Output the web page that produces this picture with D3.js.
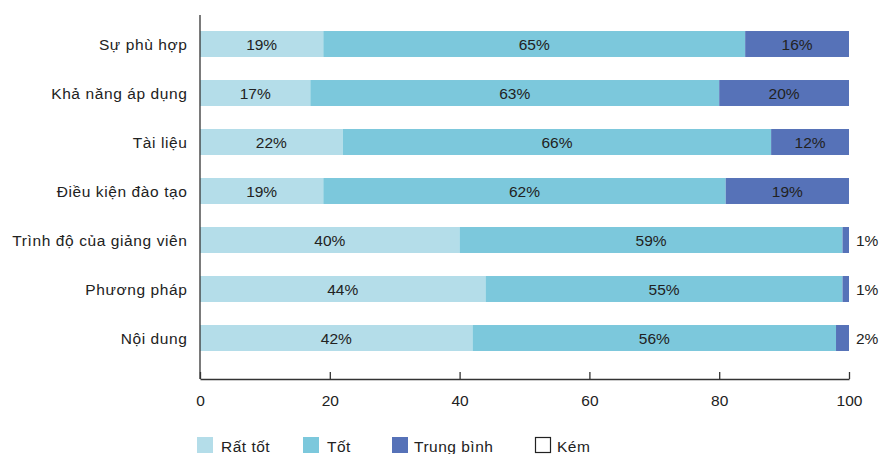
<!DOCTYPE html>
<html>
<head>
<meta charset="utf-8">
<script src="https://cdn.jsdelivr.net/npm/d3@7"></script>
<style>
  html, body { margin: 0; padding: 0; background: #fff; }
  svg text { font-family: "Liberation Sans", Arial, Helvetica, sans-serif; fill: #222; }
</style>
</head>
<body>
<svg id="chart" width="880" height="454"></svg>
<script>
// Survey criteria (top to bottom)
const categories = ["Sự phù hợp", "Khả năng áp dụng", "Tài liệu", "Điều kiện đào tạo",
                    "Trình độ của giảng viên", "Phương pháp", "Nội dung"];
// Rating levels and their shares (%)
const seriesNames = ["Rất tốt", "Tốt", "Trung bình", "Kém"];
const ratTot     = [19, 17, 22, 19, 40, 44, 42];
const tot        = [65, 63, 66, 62, 59, 55, 56];
const trungBinh  = [16, 20, 12, 19, 1, 1, 2];
const kem        = [0, 0, 0, 0, 0, 0, 0];
const xTicks     = [0, 20, 40, 60, 80, 100];

const colors = ["#b4dde9", "#7cc8dc", "#5672b8", "#ffffff"];

const svg = d3.select("#chart");
const left = 200, right = 849, axisTop = 15, axisBottom = 379;

const x = d3.scaleLinear().domain([0, 100]).range([left, right]);
const y = d3.scaleBand().domain(categories).range([19.5, 362.5])
  .paddingInner(0.47).paddingOuter(0.235);

const rows = categories.map((c, i) => ({
  cat: c, values: [ratTot[i], tot[i], trungBinh[i], kem[i]]
}));

const fontSize = 15.5;

rows.forEach(r => {
  let acc = 0;
  r.values.forEach((v, si) => {
    const x0 = acc, x1 = acc + v;
    acc = x1;
    if (v <= 0) return;
    svg.append("rect")
      .attr("x", x(x0)).attr("y", y(r.cat))
      .attr("width", x(x1) - x(x0)).attr("height", y.bandwidth())
      .attr("fill", colors[si]);
    const cy = y(r.cat) + y.bandwidth() / 2;
    if (v >= 5) {
      svg.append("text")
        .attr("x", x((x0 + x1) / 2)).attr("y", cy)
        .attr("dy", "0.36em").attr("text-anchor", "middle")
        .style("font-size", fontSize + "px")
        .text(v + "%");
    } else {
      svg.append("text")
        .attr("x", x(100) + 7).attr("y", cy)
        .attr("dy", "0.36em").attr("text-anchor", "start")
        .style("font-size", fontSize + "px")
        .text(v + "%");
    }
  });
  // category label
  svg.append("text")
    .attr("x", left - 12.5).attr("y", y(r.cat) + y.bandwidth() / 2)
    .attr("dy", "0.36em").attr("text-anchor", "end")
    .style("font-size", fontSize + "px")
    .style("letter-spacing", "0.6px")
    .text(r.cat);
});

// y axis line
svg.append("line")
  .attr("x1", left).attr("x2", left).attr("y1", axisTop).attr("y2", axisBottom)
  .attr("stroke", "#333").attr("stroke-width", 1.3);

// x axis with inward ticks
const xAxis = d3.axisBottom(x).tickValues(xTicks).tickSizeInner(-7).tickSizeOuter(0).tickPadding(16);
const gx = svg.append("g").attr("transform", `translate(0,${axisBottom})`).call(xAxis);
gx.select(".domain").attr("stroke", "#333").attr("stroke-width", 1.3);
gx.selectAll(".tick line").attr("stroke", "#333").attr("stroke-width", 1.3);
gx.selectAll(".tick text").style("font-size", fontSize + "px")
  .style("font-family", '"Liberation Sans", Arial, sans-serif').attr("fill", "#222");

// legend
const legendX = [197, 303, 392, 535];
seriesNames.forEach((name, i) => {
  const g = svg.append("g").attr("transform", `translate(${legendX[i]},437)`);
  g.append("rect").attr("x", i === 3 ? 0.5 : 0).attr("y", i === 3 ? 0.5 : 0)
    .attr("width", i === 3 ? 15 : 16).attr("height", i === 3 ? 15 : 16)
    .attr("fill", colors[i])
    .attr("stroke", i === 3 ? "#222" : "none").attr("stroke-width", 1.2);
  g.append("text").attr("x", i === 2 ? 22 : (i === 3 ? 22 : 24)).attr("y", 15)
    .style("font-size", fontSize + "px")
    .style("letter-spacing", "0.5px")
    .text(name);
});
</script>
</body>
</html>
